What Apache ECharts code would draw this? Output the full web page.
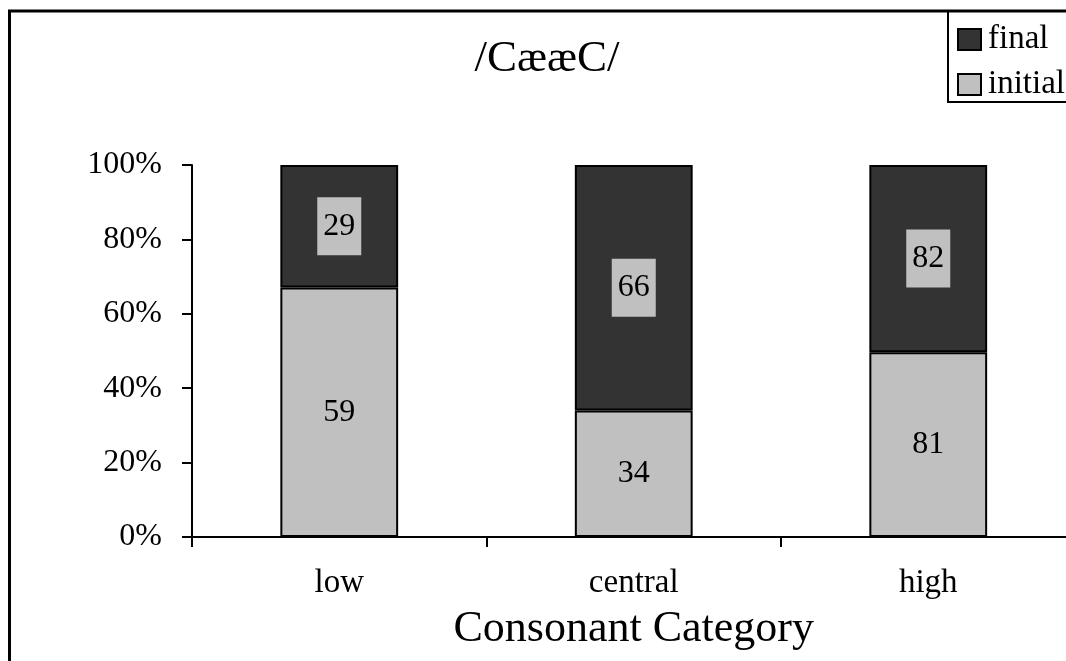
<!DOCTYPE html>
<html>
<head>
<meta charset="utf-8">
<script src="https://cdn.jsdelivr.net/npm/echarts@6/dist/echarts.min.js"></script>
<style>
  html, body { margin: 0; padding: 0; background: #fff; overflow: hidden; }
  #chart { width: 1094px; height: 661px; }
</style>
</head>
<body>
<div id="chart"></div>
<script>
// Token counts per consonant category and vowel position
const categories = ['low', 'central', 'high'];
const initialCounts = [59, 34, 81];
const finalCounts = [29, 66, 82];
const yTicks = [0, 20, 40, 60, 80, 100];

const FONT = 'Liberation Serif';

// Share of each category (100% stacked)
const totals = categories.map((_, i) => initialCounts[i] + finalCounts[i]);
const initialPct = initialCounts.map((v, i) => v / totals[i] * 100);
const finalPct = finalCounts.map((v, i) => v / totals[i] * 100);

const chart = echarts.init(document.getElementById('chart'), null, { renderer: 'canvas' });

chart.setOption({
  animation: false,
  backgroundColor: '#fff',
  textStyle: { fontFamily: FONT, color: '#000' },
  title: {
    text: '/CææC/',
    left: 'center',
    top: 32,
    textStyle: { fontFamily: FONT, fontWeight: 'normal', fontSize: 45, color: '#000' }
  },
  legend: {
    data: ['final', 'initial'],
    orient: 'vertical',
    left: 957,
    top: 23,
    padding: 0,
    itemWidth: 23,
    itemHeight: 21,
    itemGap: 12,
    icon: 'rect',
    textStyle: { fontFamily: FONT, fontSize: 33, color: '#000', lineHeight: 33, padding: [0, 0, 0, 2] }
  },
  grid: { left: 192, right: 18.5, top: 165, bottom: 124 },
  xAxis: {
    type: 'category',
    data: categories,
    boundaryGap: true,
    name: 'Consonant Category',
    nameLocation: 'middle',
    nameGap: 70,
    nameTextStyle: { fontFamily: FONT, fontSize: 44, color: '#000' },
    axisLine: { lineStyle: { color: '#000', width: 2 } },
    axisTick: { show: true, length: 10, lineStyle: { color: '#000', width: 2 } },
    axisLabel: { fontFamily: FONT, fontSize: 33, color: '#000', margin: 30 },
    splitLine: { show: false }
  },
  yAxis: {
    type: 'value',
    min: yTicks[0],
    max: yTicks[yTicks.length - 1],
    interval: yTicks[1] - yTicks[0],
    axisLine: { show: true, lineStyle: { color: '#000', width: 2 } },
    axisTick: { show: true, length: 10, lineStyle: { color: '#000', width: 2 } },
    axisLabel: { fontFamily: FONT, fontSize: 32, color: '#000', margin: 30, formatter: '{value}%' },
    splitLine: { show: false }
  },
  series: [
    {
      name: 'initial',
      type: 'bar',
      stack: 'total',
      barWidth: '40%',
      data: initialPct,
      itemStyle: { color: '#c0c0c0', borderColor: '#000', borderWidth: 2 },
      label: {
        show: true,
        position: 'inside',
        fontFamily: FONT,
        fontSize: 32,
        color: '#000',
        formatter: p => String(initialCounts[p.dataIndex])
      }
    },
    {
      name: 'final',
      type: 'bar',
      stack: 'total',
      barWidth: '40%',
      data: finalPct,
      itemStyle: { color: '#333333', borderColor: '#000', borderWidth: 2 },
      label: {
        show: true,
        position: 'inside',
        fontFamily: FONT,
        fontSize: 32,
        color: '#000',
        backgroundColor: '#c0c0c0',
        padding: [13, 6],
        formatter: p => String(finalCounts[p.dataIndex])
      }
    }
  ],
  graphic: [
    {
      type: 'rect',
      silent: true,
      z: 100,
      shape: { x: 9.5, y: 11, width: 1200, height: 800 },
      style: { fill: 'none', stroke: '#000', lineWidth: 3 }
    },
    {
      type: 'rect',
      silent: true,
      z: 100,
      shape: { x: 948, y: 11, width: 300, height: 91 },
      style: { fill: 'none', stroke: '#000', lineWidth: 2 }
    }
  ]
});
</script>
</body>
</html>
